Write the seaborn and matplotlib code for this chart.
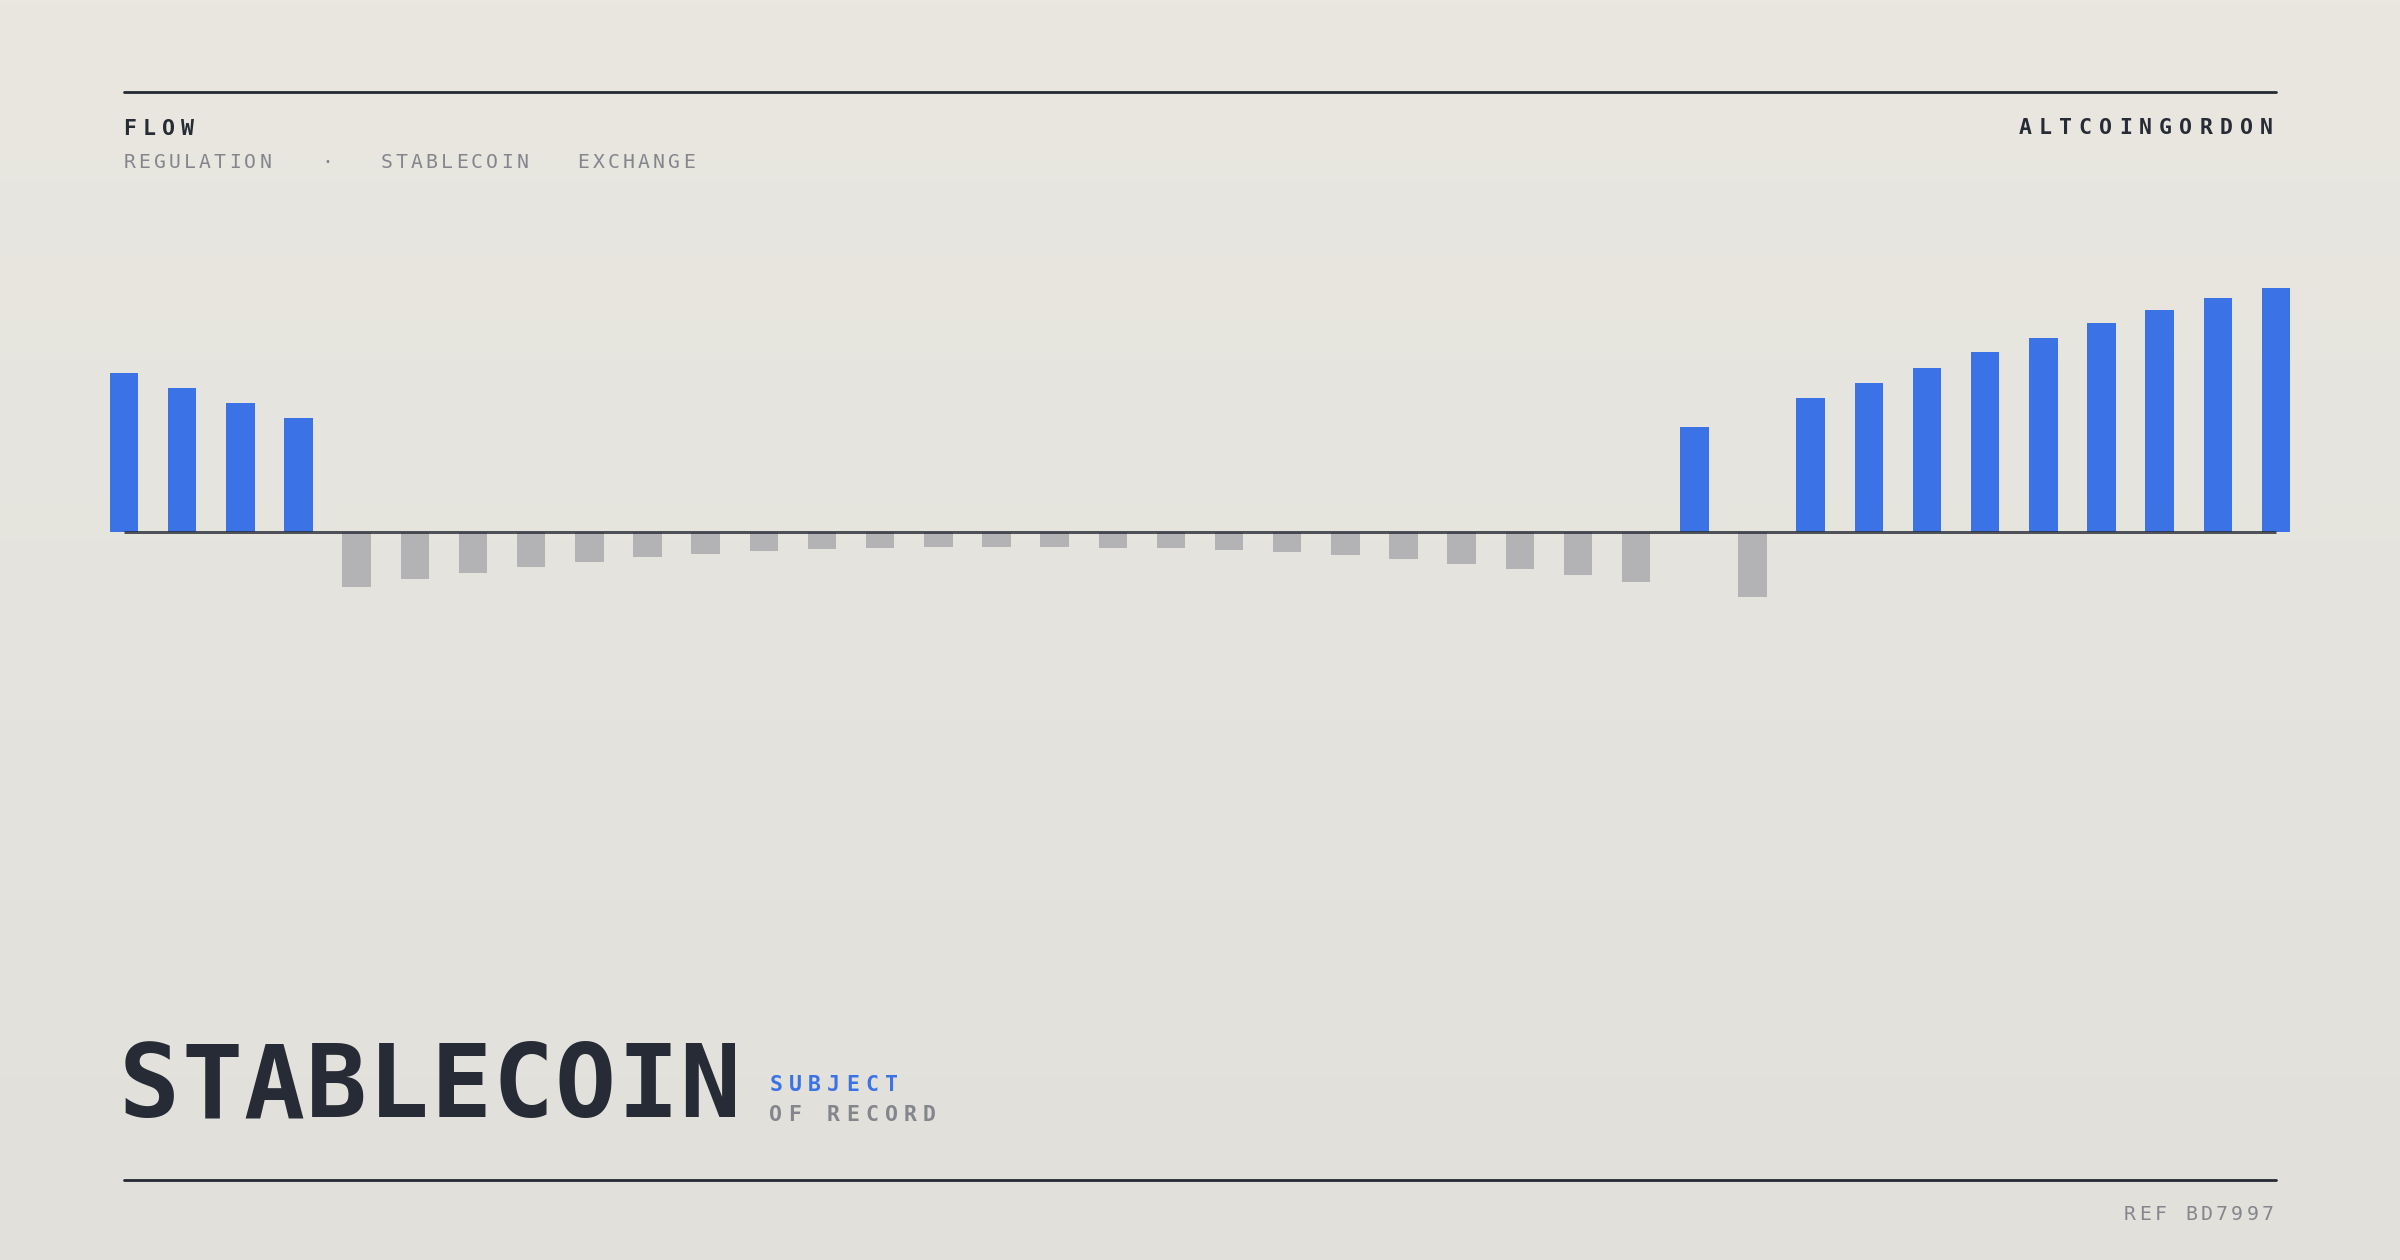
import numpy as np
import pandas as pd
import matplotlib
matplotlib.use("Agg")
import matplotlib.pyplot as plt
import seaborn as sns

# ---------------- data ----------------
periods = [f"{i+1:02d}" for i in range(38)]
flow_values = [158.7, 143.4, 128.4, 113.4,
               -55.0, -47.6, -41.0, -35.0, -30.0, -25.3, -22.0, -19.6, -17.5, -16.0,
               -15.3, -15.0, -15.0, -16.0, -16.6, -18.0, -20.0, -23.0, -27.0, -32.0,
               -37.0, -43.6, -50.0,
               104.4, -65.6,
               133.4, 148.7, 163.7, 179.4, 193.7, 208.4, 221.4, 233.4, 243.7]
title_text = "STABLECOIN"
kicker_text = "FLOW"
brand_text = "ALTCOINGORDON"
tags = ["REGULATION", "·", "STABLECOIN", "EXCHANGE"]
sub_line1 = "SUBJECT"
sub_line2 = "OF RECORD"
ref_text = "REF BD7997"

# ---------------- style ----------------
W, H, DPI = 2400, 1260, 100
BLUE = "#3b73e6"
GREY_BAR = "#b3b3b5"
DARK = "#272b35"
GREY_TXT = "#85868d"
MONO = "DejaVu Sans Mono"

sns.set_theme(style="white")
plt.rcParams["font.family"] = [MONO, "DejaVu Sans"]

fig = plt.figure(figsize=(W / DPI, H / DPI), dpi=DPI)

# background gradient
bg = fig.add_axes([0, 0, 1, 1], zorder=0)
top = np.array([233, 231, 224]) / 255
bot = np.array([225, 224, 219]) / 255
t = np.linspace(0, 1, 256)[:, None, None]
grad = top * (1 - t) + bot * t
grad = np.repeat(grad, 2, axis=1)
bg.imshow(grad, aspect="auto", extent=[0, 1, 0, 1], origin="upper")
bg.set_axis_off()

# ---------------- bars ----------------
df = pd.DataFrame({"period": periods, "flow": flow_values})
df["direction"] = np.where(df["flow"] >= 0, "in", "out")

ax = fig.add_axes([0, 0, 1, 1], zorder=1)
ax.patch.set_alpha(0)
sns.barplot(data=df, x="period", y="flow", hue="direction",
            palette={"in": BLUE, "out": GREY_BAR}, dodge=False, saturation=1,
            width=0.49, linewidth=0, legend=False, ax=ax, order=periods)

# map centers 0..37 to pixel 124..2276
ppu = (2276 - 124) / 37
ax.set_xlim(-124 / ppu, 37 + (W - 2276) / ppu)
zero_px = 531.7
ax.set_ylim(-(H - zero_px), zero_px)
ax.hlines(0, 0, 37, color="#2a2e38", lw=3 * 72 / DPI, alpha=0.8, zorder=5)
ax.set_axis_off()

# ---------------- rules ----------------
def rule(y_px):
    fig.add_artist(plt.Line2D([124 / W, 2276 / W], [1 - y_px / H, 1 - y_px / H],
                              color="#262a33", lw=2.8 * 72 / DPI, zorder=3))

rule(92)
rule(1180)

# ---------------- letter-spaced text ----------------
def spaced(x, y, s, adv, size, weight, color, align="left"):
    em = size * DPI / 72
    half = 0.27 * em
    n = len(s)
    if align == "right":
        x = x - (n - 1) * adv - 2 * half
    for i, ch in enumerate(s):
        if ch == " ":
            continue
        fig.text((x + half + i * adv) / W, 1 - y / H, ch, ha="center", va="baseline",
                 fontsize=size, fontweight=weight, color=color, family=MONO, zorder=4)

spaced(124, 135, kicker_text, 19.2, 15.5, "bold", DARK)
spaced(2272, 134, brand_text, 20.1, 15.5, "bold", DARK, align="right")

tag_x = [124, None, 381, 578]
spaced(tag_x[0], 168, tags[0], 15.1, 14.2, "normal", GREY_TXT)
fig.text(327 / W, 1 - 168 / H, tags[1], ha="center", va="baseline", fontsize=14.2,
         color=GREY_TXT, family=MONO)
spaced(tag_x[2], 168, tags[2], 15.1, 14.2, "normal", GREY_TXT)
spaced(tag_x[3], 168, tags[3], 15.1, 14.2, "normal", GREY_TXT)

spaced(122, 1117, title_text, 62.3, 73, "bold", DARK)
spaced(770, 1091, sub_line1, 19.3, 15.5, "bold", BLUE)
spaced(770, 1121, sub_line2, 19.2, 15.5, "bold", GREY_TXT)
spaced(2273, 1220, ref_text, 15.3, 14.2, "normal", GREY_TXT, align="right")

fig.savefig("out.png", dpi=DPI)
